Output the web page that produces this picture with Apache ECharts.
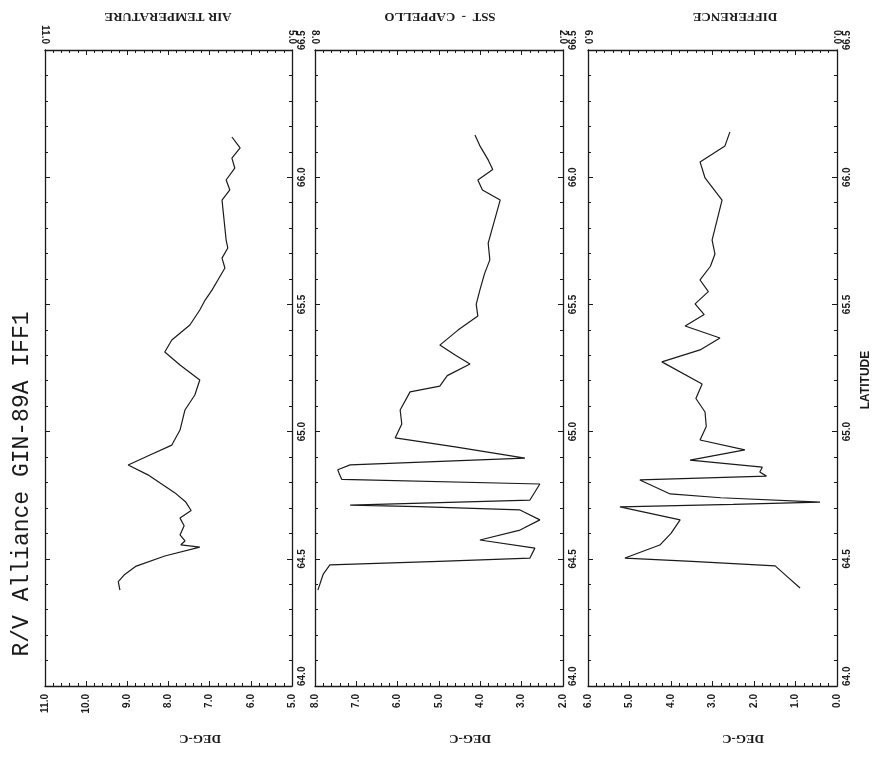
<!DOCTYPE html>
<html><head><meta charset="utf-8">
<script src="https://cdn.jsdelivr.net/npm/echarts@6/dist/echarts.min.js"></script>
<style>html,body{margin:0;padding:0;background:#fff}#c{width:876px;height:757px}</style>
</head><body><div id="c"></div>
<script>
// ---- data (latitude, value) ----
const airLat = [64.377,64.410,64.436,64.470,64.511,64.546,64.555,64.570,64.594,64.630,64.660,64.690,64.723,64.760,64.790,64.830,64.869,64.908,64.947,65.006,65.085,65.144,65.203,65.262,65.313,65.360,65.419,65.478,65.517,65.557,65.596,65.643,65.682,65.722,65.753,65.910,65.950,65.989,66.036,66.075,66.115,66.158];
const airTemp = [9.18,9.22,9.08,8.80,8.09,7.24,7.70,7.60,7.72,7.62,7.72,7.45,7.58,7.85,8.13,8.50,8.98,8.45,7.92,7.72,7.60,7.36,7.24,7.72,8.09,7.92,7.48,7.24,7.11,6.94,6.80,6.63,6.70,6.56,6.60,6.70,6.51,6.60,6.39,6.46,6.26,6.46];

const sstLat = [64.377,64.440,64.476,64.490,64.503,64.542,64.574,64.613,64.653,64.692,64.705,64.711,64.720,64.731,64.794,64.812,64.829,64.850,64.869,64.896,64.940,64.975,65.030,65.085,65.156,65.179,65.220,65.266,65.300,65.340,65.399,65.454,65.500,65.557,65.620,65.675,65.741,65.910,65.950,65.989,66.030,66.068,66.120,66.166];
const sstTemp = [7.93,7.80,7.64,5.00,2.80,2.68,4.01,3.04,2.56,3.04,5.50,7.15,5.20,2.80,2.56,7.35,7.40,7.45,7.15,2.92,4.61,6.06,5.90,5.94,5.70,4.98,4.80,4.25,4.60,4.98,4.54,4.06,4.10,4.01,3.90,3.77,3.81,3.52,3.95,4.06,3.70,3.81,4.00,4.13];

const difLat = [64.385,64.430,64.472,64.490,64.503,64.554,64.600,64.653,64.704,64.714,64.723,64.740,64.755,64.810,64.825,64.841,64.860,64.888,64.928,64.967,65.020,65.077,65.130,65.187,65.274,65.321,65.368,65.415,65.460,65.502,65.550,65.596,65.650,65.698,65.753,65.910,65.997,66.060,66.123,66.178];
const difVal = [0.89,1.20,1.49,3.50,5.11,4.27,4.00,3.78,5.23,2.50,0.41,2.80,4.02,4.75,1.70,1.86,1.80,3.54,2.22,3.30,3.15,3.18,3.40,3.25,4.22,3.30,2.82,3.66,3.20,3.42,3.10,3.30,3.05,2.94,3.01,2.77,3.18,3.30,2.70,2.58];

const latMin = 64.0, latMax = 66.5;
const panelTitles = ['AIR TEMPERATURE', 'SST  -  CAPPELLO', 'DIFFERENCE'];
const unitLabel = 'DEG-C';
const mainTitle = 'R/V Alliance GIN-89A IFF1';
const latTitle = 'LATITUDE';
const ranges = [[5, 11], [2, 8], [0, 6]];

// ---- layout ----
const panels = [
  {left: 45, right: 876 - 292, titleX: 168, unitX: 200},
  {left: 315, right: 876 - 563, titleX: 440, unitX: 470},
  {left: 588, right: 876 - 837, titleX: 735, unitX: 743}
];
const TOP = 50, BOTTOM = 757 - 686;
const ink = '#1a1a1a';
const labFont = {color: ink, fontFamily: 'Liberation Sans', fontWeight: 'bold', fontSize: 10};

const grids = [], xAxes = [], yAxes = [], series = [];
const seriesData = [[airLat, airTemp], [sstLat, sstTemp], [difLat, difVal]];
panels.forEach((p, i) => {
  grids.push({left: p.left, right: p.right, top: TOP, bottom: BOTTOM, containLabel: false});
  const [mn, mx] = ranges[i];
  const common = {
    type: 'value', gridIndex: i, min: mn, max: mx, interval: 1, inverse: true,
    axisLine: {show: true, onZero: false, lineStyle: {color: ink, width: 1.3}},
    axisTick: {show: true, inside: true, length: 5, lineStyle: {color: ink}},
    minorTick: {show: true, splitNumber: 5, length: 3, lineStyle: {color: ink}},
    splitLine: {show: false}
  };
  xAxes.push(Object.assign({}, common, {
    position: 'bottom',
    axisLabel: Object.assign({rotate: 90, margin: 8, formatter: v => v.toFixed(1)}, labFont)
  }));
  xAxes.push(Object.assign({}, common, {
    position: 'top',
    axisLabel: Object.assign({rotate: 90, margin: 6, formatter: v => (v === mn || v === mx) ? v.toFixed(1) : ''}, labFont)
  }));
  const ycommon = {
    type: 'value', gridIndex: i, min: latMin, max: latMax, interval: 0.5,
    axisLine: {show: true, onZero: false, lineStyle: {color: ink, width: 1.3}},
    axisTick: {show: true, inside: true, length: 5, lineStyle: {color: ink}},
    minorTick: {show: true, splitNumber: 5, length: 3, lineStyle: {color: ink}},
    splitLine: {show: false}
  };
  yAxes.push(Object.assign({}, ycommon, {position: 'left', axisLabel: {show: false}}));
  yAxes.push(Object.assign({}, ycommon, {
    position: 'right',
    axisLabel: Object.assign({rotate: 90, margin: 5, formatter: v => v.toFixed(1),
      alignMinLabel: 'left', alignMaxLabel: 'left'}, labFont)
  }));
  const [lats, vals] = seriesData[i];
  series.push({
    type: 'line', xAxisIndex: i * 2, yAxisIndex: i * 2, showSymbol: false, symbol: 'none',
    lineStyle: {color: ink, width: 1.2}, animation: false,
    data: lats.map((la, k) => [vals[k], la])
  });
});

const graphics = [
  {type: 'text', x: 22, y: 484, rotation: Math.PI / 2,
   style: {text: mainTitle, font: '23px "Liberation Mono"', fill: ink, textAlign: 'center', textVerticalAlign: 'middle'}},
  {type: 'text', x: 866, y: 380, rotation: Math.PI / 2,
   style: {text: latTitle, font: 'bold 12px "Liberation Sans"', fill: ink, textAlign: 'center', textVerticalAlign: 'middle'}}
];
panels.forEach((p, i) => {
  graphics.push({type: 'text', x: p.titleX, y: 16, rotation: Math.PI,
    style: {text: panelTitles[i], font: 'bold 13px "Liberation Serif"', fill: ink, textAlign: 'center', textVerticalAlign: 'middle'}});
  graphics.push({type: 'text', x: p.unitX, y: 738, rotation: Math.PI,
    style: {text: unitLabel, font: 'bold 13px "Liberation Serif"', fill: ink, textAlign: 'center', textVerticalAlign: 'middle'}});
});

const chart = echarts.init(document.getElementById('c'), null, {renderer: 'canvas'});
chart.setOption({
  animation: false, backgroundColor: '#fff',
  grid: grids, xAxis: xAxes, yAxis: yAxes, series: series, graphic: graphics
});
</script></body></html>
